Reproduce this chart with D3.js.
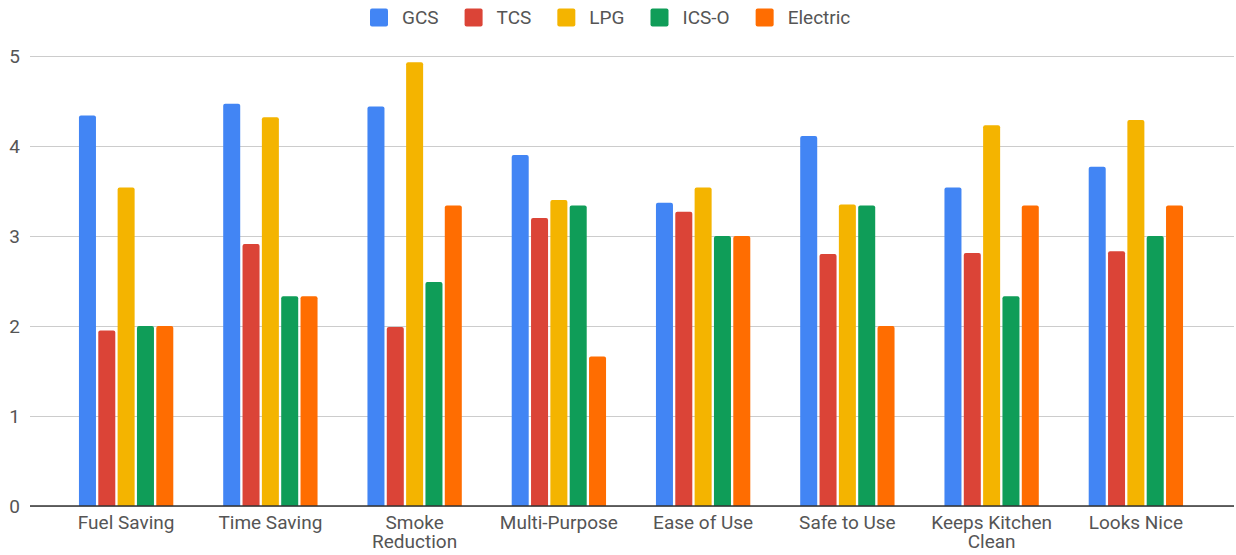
<!DOCTYPE html>
<html>
<head>
<meta charset="utf-8">
<script src="https://cdn.jsdelivr.net/npm/d3@7/dist/d3.min.js"></script>
<style>
  html, body { margin: 0; padding: 0; background: #fff; }
  svg { display: block; font-family: Roboto, "Noto Sans", sans-serif; }
</style>
</head>
<body>
<svg id="chart" width="1236" height="555"></svg>
<script>
const categories = ["Fuel Saving", "Time Saving", "Smoke Reduction", "Multi-Purpose", "Ease of Use", "Safe to Use", "Keeps Kitchen Clean", "Looks Nice"];
const categoryLines = [["Fuel Saving"], ["Time Saving"], ["Smoke", "Reduction"], ["Multi-Purpose"], ["Ease of Use"], ["Safe to Use"], ["Keeps Kitchen", "Clean"], ["Looks Nice"]];
const seriesNames = ["GCS", "TCS", "LPG", "ICS-O", "Electric"];
const seriesColors = ["#4285F4", "#DB4437", "#F4B400", "#0F9D58", "#FF6D01"];
const GCS      = [4.34, 4.47, 4.44, 3.90, 3.37, 4.11, 3.54, 3.77];
const TCS      = [1.95, 2.91, 1.99, 3.20, 3.27, 2.80, 2.81, 2.83];
const LPG      = [3.54, 4.32, 4.93, 3.40, 3.54, 3.35, 4.23, 4.29];
const ICSO     = [2.00, 2.33, 2.49, 3.34, 3.00, 3.34, 2.33, 3.00];
const Electric = [2.00, 2.33, 3.34, 1.66, 3.00, 2.00, 3.34, 3.34];
const yTicks = [0, 1, 2, 3, 4, 5];

const seriesValues = [GCS, TCS, LPG, ICSO, Electric];

const svg = d3.select("#chart");
const plotLeft = 30, plotRight = 1234;
const fontSize = 19;

const y = d3.scaleLinear().domain([0, 5]).range([506, 56]);
const x0 = d3.scaleBand().domain(categories).range([54, 1208]).paddingInner(0.346).paddingOuter(0.173);
const x1 = d3.scaleBand().domain(seriesNames).range([0, x0.bandwidth()]).paddingInner(0.12).paddingOuter(0);

// gridlines
const yAxis = d3.axisLeft(y).tickValues(yTicks).tickSize(-(plotRight - plotLeft)).tickPadding(10).tickFormat(d3.format("d"));
const gAxis = svg.append("g").attr("transform", `translate(${plotLeft},0)`).call(yAxis);
gAxis.select(".domain").remove();
gAxis.selectAll(".tick line").attr("stroke", "#cccccc").attr("stroke-width", 1);
gAxis.selectAll(".tick text").attr("fill", "#555").style("font-size", fontSize + "px").style("font-family", "Roboto, sans-serif");

// bars
const r = 2;
function barPath(x, yTop, w, yBase) {
  const h = yBase - yTop;
  const rr = Math.min(r, h / 2, w / 2);
  return `M${x},${yBase}V${yTop + rr}Q${x},${yTop} ${x + rr},${yTop}H${x + w - rr}Q${x + w},${yTop} ${x + w},${yTop + rr}V${yBase}Z`;
}
const groups = svg.append("g").selectAll("g").data(categories).join("g")
  .attr("transform", d => `translate(${x0(d)},0)`);
groups.selectAll("path").data((d, i) => seriesNames.map((s, j) => ({ s, j, v: seriesValues[j][i] }))).join("path")
  .attr("d", d => barPath(x1(d.s), y(d.v), x1.bandwidth(), y(0)))
  .attr("fill", d => seriesColors[d.j]);

// baseline
svg.append("line").attr("x1", plotLeft).attr("x2", plotRight).attr("y1", y(0)).attr("y2", y(0))
  .attr("stroke", "#333").attr("stroke-width", 1.5);

// x labels
const xAxis = d3.axisBottom(x0).tickSize(0).tickPadding(0).tickFormat("");
const gx = svg.append("g").attr("transform", `translate(0,${y(0)})`).call(xAxis);
gx.select(".domain").remove();
gx.selectAll(".tick").each(function(d, i) {
  const t = d3.select(this).append("text")
    .attr("fill", "#555").attr("text-anchor", "middle")
    .style("font-size", fontSize + "px").style("font-family", "Roboto, sans-serif");
  categoryLines[i].forEach((ln, k) => {
    t.append("tspan").attr("x", 0).attr("y", 23 + k * 19).text(ln);
  });
});

// legend
const legend = svg.append("g");
let lx = 370;
seriesNames.forEach((s, j) => {
  legend.append("rect").attr("x", lx).attr("y", 8.5).attr("width", 18).attr("height", 18).attr("rx", 2).attr("fill", seriesColors[j]);
  const t = legend.append("text").attr("x", lx + 32).attr("y", 24).attr("fill", "#555")
    .style("font-size", fontSize + "px").style("font-family", "Roboto, sans-serif").text(s);
  lx += 32 + t.node().getComputedTextLength() + 26;
});
</script>
</body>
</html>
